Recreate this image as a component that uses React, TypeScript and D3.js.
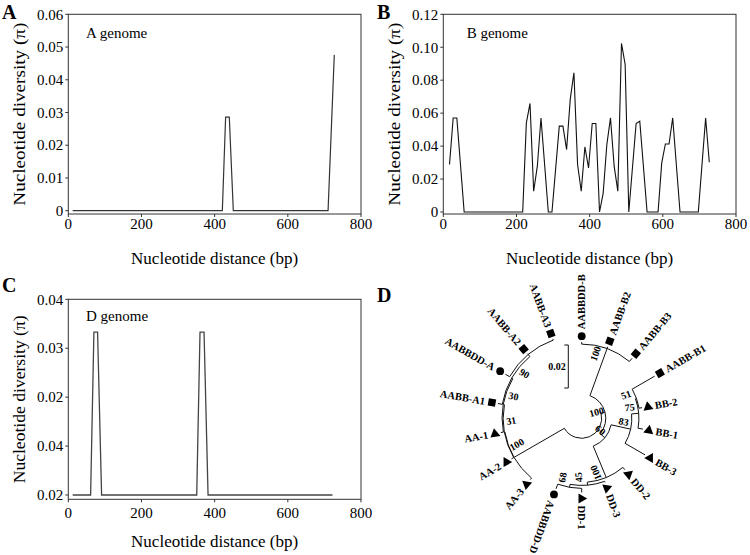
import React from "react";
import * as d3 from "d3";

const FONT = "'Liberation Serif', 'Times New Roman', serif";

// ---------- data ----------
const xTicks = [0, 200, 400, 600, 800];

const aTicks = [0, 0.01, 0.02, 0.03, 0.04, 0.05, 0.06];
const aTickLabels = ["0", "0.01", "0.02", "0.03", "0.04", "0.05", "0.06"];
const aX = [12, 421, 430, 440, 451, 710, 727];
const aY = [0, 0, 0.0286, 0.0286, 0, 0, 0.0476];

const bTicks = [0, 0.02, 0.04, 0.06, 0.08, 0.1, 0.12];
const bTickLabels = ["0", "0.02", "0.04", "0.06", "0.08", "0.10", "0.12"];
const bX = [17, 27, 37, 57, 217, 227, 237, 247, 257, 267, 287, 297, 317, 327, 337, 347, 357, 367, 377, 387, 397, 407, 417, 427, 437, 447, 457, 467, 477, 487, 497, 507, 527, 537, 557, 587, 597, 607, 617, 627, 647, 697, 717, 727];
const bY = [0.0288, 0.0571, 0.0571, 0, 0, 0.0541, 0.0659, 0.0126, 0.0278, 0.0571, 0, 0, 0.0521, 0.0521, 0.0379, 0.0685, 0.0845, 0.0288, 0.0126, 0.0395, 0.0267, 0.0537, 0.0537, 0, 0.0115, 0.041, 0.0571, 0.0278, 0.0126, 0.1023, 0.0896, 0, 0.0537, 0.0551, 0, 0, 0.0298, 0.0413, 0.0413, 0.0571, 0, 0, 0.0571, 0.0302];

const cTicks = [0, 0.01, 0.02, 0.03, 0.04];
const cTickLabels = ["0.02", "0.04", "0.02", "0.03", "0.04"];
const cX = [12, 61, 70, 80, 91, 351, 360, 371, 382, 722];
const cY = [0, 0, 0.0333, 0.0333, 0, 0, 0.0333, 0.0333, 0, 0];

// Neighbour-joining tree (bootstrap values as internal node names)
const treeNewick =
  "(((AABBDD-B:0.0009,AABB-B2:0.0009,AABB-B3:0.0019)100:0.0233," +
  "((((AABB-B1:0.0121,BB-2:0.0014)51:0.0005,BB-1:0.0023)75:0.0033,BB-3:0.0107)83:0.0093," +
  "(DD-2:0.0014,(DD-3:0.0005,(DD-1:0.0019,AABBDD-D:0.0023)68:0.0014)45:0.0014)100:0.0158)60:0.0028)100:0.0019," +
  "(AA-3:0.0009,(AA-2:0.0012,(AA-1:0.0012,(AABB-A1:0.0021,(AABBDD-A:0.0023,AABB-A2:0.0005,AABB-A3:0.0005):0.0012)90:0.0005)30:0.0005)31:0.0002)100:0.0270);";
const scaleBarValue = 0.02;

// ---------- helpers ----------
type NNode = { name: string; len: number; children: NNode[] | null };
function parseNewick(s: string): NNode {
  let i = 0;
  function node(): NNode {
    const n: NNode = { name: "", len: 0, children: null };
    if (s[i] === "(") {
      i++;
      n.children = [];
      while (true) {
        n.children.push(node());
        if (s[i] === ",") { i++; continue; }
        if (s[i] === ")") { i++; break; }
        break;
      }
    }
    let name = "";
    while (i < s.length && !",():;".includes(s[i])) name += s[i++];
    n.name = name;
    if (s[i] === ":") {
      i++;
      let num = "";
      while (i < s.length && !",();".includes(s[i])) num += s[i++];
      n.len = +num;
    }
    return n;
  }
  return node();
}

type PanelProps = {
  left: number; right: number; top: number; zero: number; frameBottom: number;
  yMax: number; ticks: number[]; tickLabels: string[]; xs: number[]; ys: number[];
  genome: string; genomeX: number; genomeY: number;
  letter: string; letterX: number; letterY: number;
  xLabelY: number; xTitleY: number; yTitleX: number; yTitleLen: number;
  stroke: string; strokeWidth: number;
};

function LinePanel(p: PanelProps) {
  const x = d3.scaleLinear().domain([0, 800]).range([p.left, p.right]);
  const y = d3.scaleLinear().domain([0, p.yMax]).range([p.zero, p.top]);
  const pts: [number, number][] = p.xs.map((v, i) => [v, p.ys[i]]);
  const line = d3.line<[number, number]>().x(d => x(d[0])).y(d => y(d[1]));
  const midY = (p.top + p.frameBottom) / 2;
  return (
    <g>
      <text x={p.letterX} y={p.letterY} fontSize={20} fontWeight="bold" fontFamily={FONT}>{p.letter}</text>
      <rect x={p.left} y={p.top} width={p.right - p.left} height={p.frameBottom - p.top} fill="none" stroke="#333" strokeWidth={1} />
      {p.ticks.map((t, i) => (
        <g key={"y" + i}>
          <line x1={p.left - 3} x2={p.left} y1={y(t)} y2={y(t)} stroke="#333" strokeWidth={1} />
          <text x={p.left - 5} y={y(t)} dy="0.35em" textAnchor="end" fontSize={15} fontFamily={FONT}>{p.tickLabels[i]}</text>
        </g>
      ))}
      {xTicks.map((t, i) => (
        <g key={"x" + i}>
          <line x1={x(t)} x2={x(t)} y1={p.frameBottom} y2={p.frameBottom + 3} stroke="#333" strokeWidth={1} />
          <text x={x(t)} y={p.xLabelY} textAnchor="middle" fontSize={15} fontFamily={FONT}>{t}</text>
        </g>
      ))}
      <path d={line(pts) || ""} fill="none" stroke={p.stroke} strokeWidth={p.strokeWidth} strokeLinejoin="miter" />
      <text x={p.genomeX} y={p.genomeY} fontSize={15} fontFamily={FONT}>{p.genome}</text>
      <text x={(p.left + p.right) / 2} y={p.xTitleY} textAnchor="middle" fontSize={17} fontFamily={FONT}>Nucleotide distance (bp)</text>
      <text transform={`translate(${p.yTitleX},${midY}) rotate(-90)`} textAnchor="middle" fontSize={17} fontFamily={FONT}
        textLength={p.yTitleLen} lengthAdjust="spacingAndGlyphs">Nucleotide diversity (π)</text>
    </g>
  );
}

function Tree() {
  const cx = 581.7, cy = 418.3;
  const rScale = d3.scaleLinear().domain([0, scaleBarValue]).range([20, 63]);
  const root: any = d3.hierarchy(parseNewick(treeNewick), (d: NNode) => d.children || undefined);
  const leaves = root.leaves();
  const angle = d3.scaleLinear().domain([0, leaves.length]).range([270, 630]);
  leaves.forEach((l: any, i: number) => { l.theta = angle(i); });
  root.eachAfter((n: any) => {
    if (n.children) {
      const a = n.children.map((c: any) => c.theta);
      n.theta = (d3.min(a)! + d3.max(a)!) / 2;
    }
  });
  root.eachBefore((n: any) => { n.dist = n.parent ? n.parent.dist + n.data.len : 0; n.r = rScale(n.dist); });
  const rad = (deg: number) => (deg * Math.PI) / 180;
  const pt = (r: number, deg: number): [number, number] => [cx + r * Math.cos(rad(deg)), cy + r * Math.sin(rad(deg))];
  const norm = (deg: number) => { let d = ((deg % 360) + 360) % 360; if (d >= 270) d -= 360; return d; };

  const arcs: string[] = [];
  const lines: [number, number, number, number][] = [];
  root.each((n: any) => {
    if (n.children) {
      const a = n.children.map((c: any) => c.theta);
      const p = d3.path();
      const a0 = d3.min(a)!, a1 = d3.max(a)!;
      const [sx, sy] = pt(n.r, a0);
      p.moveTo(sx, sy);
      p.arc(cx, cy, n.r, rad(a0), rad(a1), false);
      arcs.push(p.toString());
    }
    if (n.parent) {
      const [x1, y1] = pt(n.parent.r, n.theta);
      const [x2, y2] = pt(n.r, n.theta);
      lines.push([x1, y1, x2, y2]);
    }
  });

  const tips = leaves.map((l: any, i: number) => {
    const name: string = l.data.name;
    const nd = norm(l.theta);
    const flip = nd >= 115;
    const rot = flip ? nd - 180 : nd;
    const mr = l.r + 6;
    const [mx, my] = pt(mr, l.theta);
    const [tx, ty] = pt(mr + 7, l.theta);
    let marker;
    if (/^AABBDD/.test(name)) marker = <circle cx={mx} cy={my} r={3.9} fill="#000" />;
    else if (/^AABB-/.test(name)) marker = <rect x={-3.7} y={-3.7} width={7.4} height={7.4} fill="#000" transform={`translate(${mx},${my}) rotate(${nd})`} />;
    else marker = <path d="M0,-5.5 L5,3.2 L-5,3.2 Z" fill="#000" transform={`translate(${mx},${my}) rotate(${rot})`} />;
    return (
      <g key={"t" + i}>
        {marker}
        <text transform={`translate(${tx},${ty}) rotate(${rot})`} dy="0.35em" textAnchor={flip ? "end" : "start"}
          fontSize={10.5} fontWeight="bold" fontFamily={FONT}>{name}</text>
      </g>
    );
  });

  const boots: any[] = [];
  root.each((n: any) => {
    if (n.children && n.parent && n.data.name) {
      const nd = norm(n.theta);
      const flip = nd > 45 && nd < 270;
      const rot = flip ? nd - 180 : nd;
      const [bx, by] = pt(n.r - 8, n.theta + (flip ? 8 : -8));
      boots.push(
        <text key={"b" + boots.length} transform={`translate(${bx},${by}) rotate(${rot})`} dy="0.35em" textAnchor="middle"
          fontSize={10} fontWeight="bold" fontFamily={FONT}>{n.data.name}</text>
      );
    }
  });

  const barX = 568.3, barY0 = 345;
  const barLen = rScale(scaleBarValue) - rScale(0);

  return (
    <g>
      <text x={377} y={301.7} fontSize={20} fontWeight="bold" fontFamily={FONT}>D</text>
      {arcs.map((d, i) => <path key={"a" + i} d={d} fill="none" stroke="#111" strokeWidth={1} />)}
      {lines.map((l, i) => <line key={"l" + i} x1={l[0]} y1={l[1]} x2={l[2]} y2={l[3]} stroke="#111" strokeWidth={1} />)}
      {tips}
      {boots}
      <path d={`M${barX - 4},${barY0} H${barX} V${barY0 + barLen} H${barX - 4}`} fill="none" stroke="#111" strokeWidth={1} />
      <text x={barX - 2.5} y={barY0 + barLen / 2} dy="0.35em" textAnchor="end" fontSize={10} fontWeight="bold" fontFamily={FONT}>{scaleBarValue.toFixed(2)}</text>
    </g>
  );
}

export default function App() {
  return (
    <svg width={750} height={555} style={{ position: "absolute", left: 0, top: 0, background: "#fff" }}>
      <rect x={0} y={0} width={750} height={555} fill="#fff" />
      <LinePanel left={68.3} right={361} top={14.3} zero={210.7} frameBottom={214} yMax={0.06}
        ticks={aTicks} tickLabels={aTickLabels} xs={aX} ys={aY}
        genome="A genome" genomeX={86} genomeY={37.5} letter="A" letterX={2} letterY={18.5}
        xLabelY={228.5} xTitleY={264} yTitleX={25} yTitleLen={183} stroke="#333" strokeWidth={1.2} />
      <LinePanel left={443.3} right={736} top={14.3} zero={212} frameBottom={214} yMax={0.12}
        ticks={bTicks} tickLabels={bTickLabels} xs={bX} ys={bY}
        genome="B genome" genomeX={466.7} genomeY={37.7} letter="B" letterX={377} letterY={18.5}
        xLabelY={228.5} xTitleY={264} yTitleX={400} yTitleLen={183} stroke="#111" strokeWidth={1.1} />
      <LinePanel left={68.3} right={361} top={299.3} zero={495} frameBottom={499.3} yMax={0.04}
        ticks={cTicks} tickLabels={cTickLabels} xs={cX} ys={cY}
        genome="D genome" genomeX={86} genomeY={320.7} letter="C" letterX={2} letterY={292}
        xLabelY={518} xTitleY={546.5} yTitleX={25} yTitleLen={168} stroke="#444" strokeWidth={1.3} />
      <Tree />
    </svg>
  );
}
